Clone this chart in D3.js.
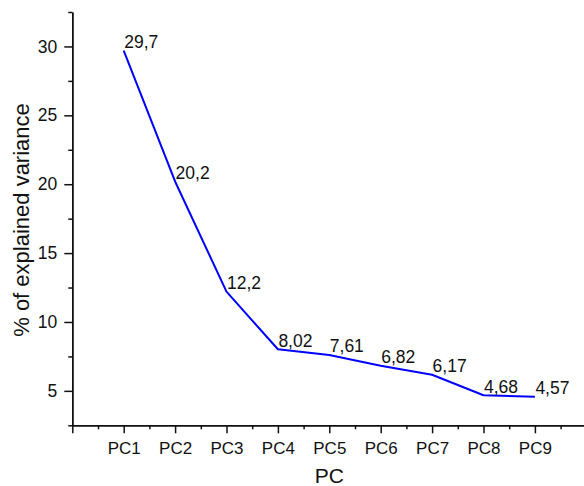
<!DOCTYPE html>
<html>
<head>
<meta charset="utf-8">
<script src="https://cdn.jsdelivr.net/npm/d3@7"></script>
<style>
  body { margin: 0; background: #fff; }
  svg text { font-family: "Liberation Sans", Arial, sans-serif; fill: #111; }
  .axis path, .axis line { stroke: #111; stroke-width: 1.5px; }
</style>
</head>
<body>
<div id="chart"></div>
<script>
var components = ["PC1", "PC2", "PC3", "PC4", "PC5", "PC6", "PC7", "PC8", "PC9"];
var variance = [29.7, 20.2, 12.2, 8.02, 7.61, 6.82, 6.17, 4.68, 4.57];
var varianceLabels = ["29,7", "20,2", "12,2", "8,02", "7,61", "6,82", "6,17", "4,68", "4,57"];
var yTicks = [5, 10, 15, 20, 25, 30];

var width = 584, height = 486;
var plotLeft = 72.3, plotRight = 586.3, plotTop = 12, plotBottom = 425.3;

var data = components.map((c, i) => ({ pc: c, idx: i + 1, value: variance[i], label: varianceLabels[i] }));

var svg = d3.select("#chart").append("svg")
    .attr("width", width)
    .attr("height", height);

// x uses the component index, 0 is the axis origin
var xScale = d3.scaleLinear().domain([0, 10]).range([plotLeft, plotRight]);
var yScale = d3.scaleLinear().domain([2.5, 32.5]).range([plotBottom, plotTop]);

// minor ticks first so the major ones draw over them
svg.append("g")
    .attr("class", "axis")
    .attr("transform", "translate(0," + plotBottom + ")")
    .call(d3.axisBottom(xScale)
        .tickValues(d3.range(0.5, 10, 1))
        .tickSize(4)
        .tickSizeOuter(0)
        .tickFormat(""));

svg.append("g")
    .attr("class", "axis")
    .attr("transform", "translate(" + plotLeft + ",0)")
    .call(d3.axisLeft(yScale)
        .tickValues([2.5, 7.5, 12.5, 17.5, 22.5, 27.5, 32.5])
        .tickSize(4)
        .tickSizeOuter(0)
        .tickFormat(""));

var xAxis = svg.append("g")
    .attr("class", "axis")
    .attr("transform", "translate(0," + plotBottom + ")")
    .call(d3.axisBottom(xScale)
        .tickValues(d3.range(0, 10))
        .tickSize(8)
        .tickSizeOuter(0)
        .tickPadding(8.5)
        .tickFormat(d => d === 0 ? "" : components[d - 1]));
xAxis.selectAll("text").style("font-size", "17px");

var yAxis = svg.append("g")
    .attr("class", "axis")
    .attr("transform", "translate(" + plotLeft + ",0)")
    .call(d3.axisLeft(yScale)
        .tickValues(yTicks)
        .tickSize(8)
        .tickSizeOuter(0)
        .tickPadding(7));
yAxis.selectAll("text").style("font-size", "17.5px");

// axis titles
svg.append("text")
    .attr("x", (plotLeft + plotRight) / 2)
    .attr("y", 483)
    .attr("text-anchor", "middle")
    .style("font-size", "21px")
    .text("PC");

svg.append("text")
    .attr("transform", "translate(29,220) rotate(-90)")
    .attr("text-anchor", "middle")
    .style("font-size", "22px")
    .text("% of explained variance");

var line = d3.line()
    .x(d => xScale(d.idx))
    .y(d => yScale(d.value));

svg.append("path")
    .datum(data)
    .attr("d", line)
    .style("fill", "none")
    .style("stroke", "#0000ff")
    .style("stroke-width", 2)
    .style("stroke-linejoin", "round");

svg.selectAll(".label")
    .data(data)
    .enter().append("text")
    .attr("class", "label")
    .attr("x", d => xScale(d.idx) + 0.5)
    .attr("y", d => yScale(d.value) - 2.5)
    .style("font-size", "17.5px")
    .text(d => d.label);
</script>
</body>
</html>
